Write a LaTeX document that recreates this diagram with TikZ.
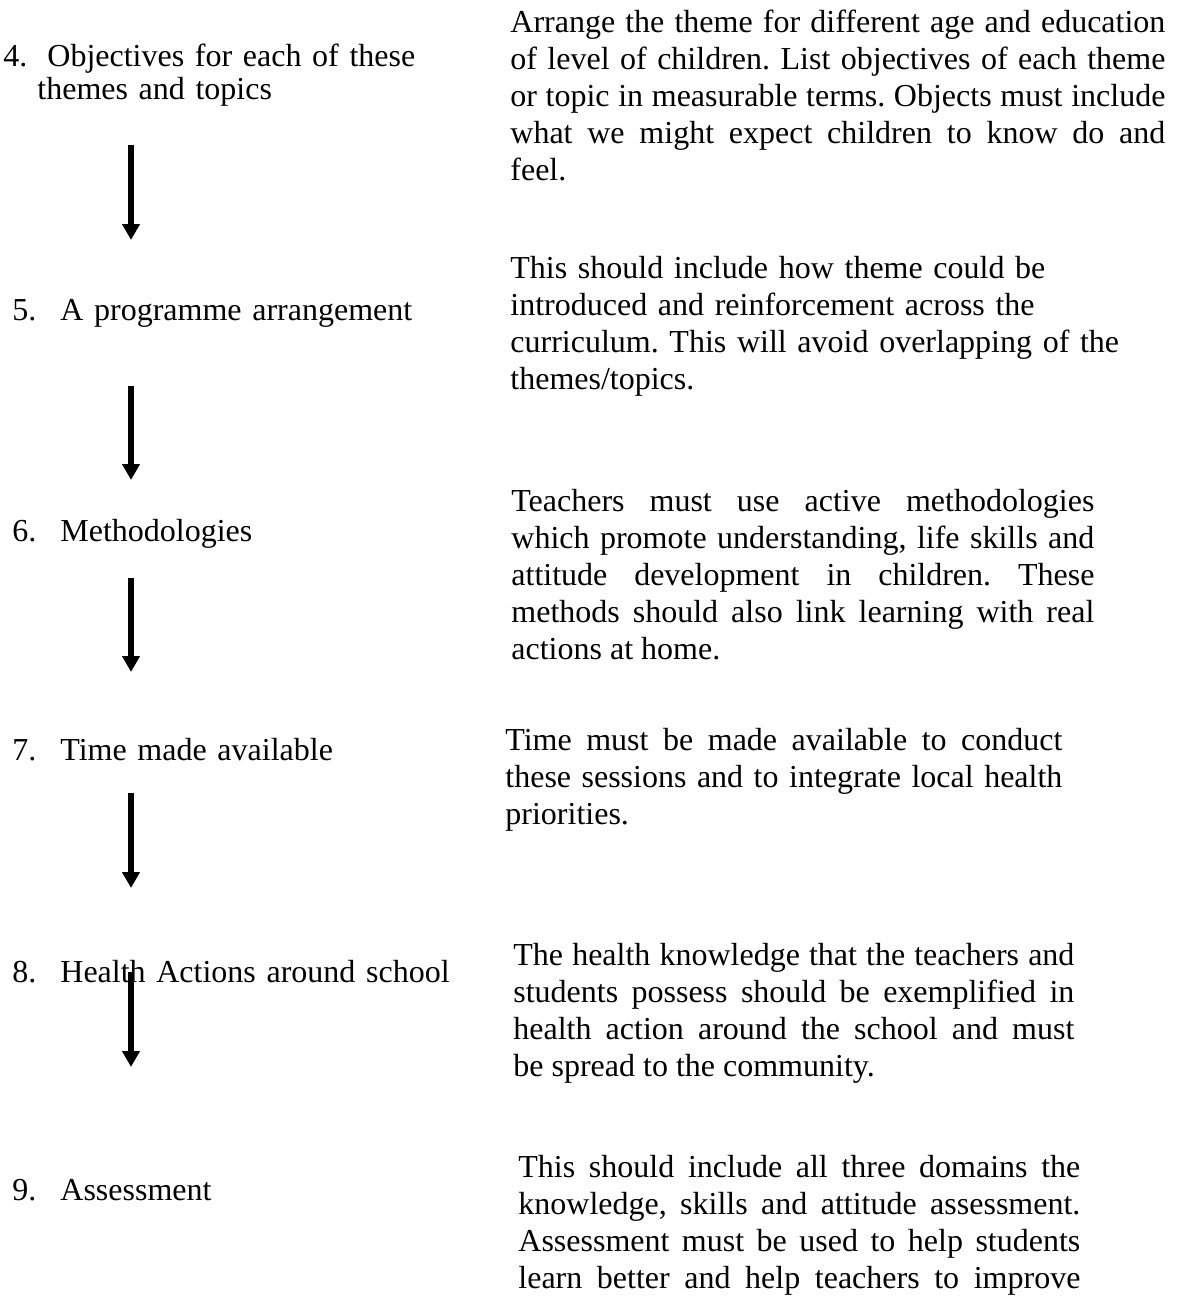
\documentclass[tikz,border=0pt]{standalone}
\usepackage{fontspec}
\setmainfont{Liberation Serif}
\usetikzlibrary{arrows.meta}
\frenchspacing
\tikzset{
  step label/.style={anchor=base west,inner sep=0pt,text width=240pt,align=left,
    font=\fontsize{16pt}{16.5pt}\selectfont},
  note text/.style={anchor=base west,inner sep=0pt,align=justify,
    font=\fontsize{16pt}{18.5pt}\selectfont,
    execute at begin node={\tolerance=10000\hbadness=10000\frenchspacing}},
  flow arrow/.style={line width=2.6pt,-{Triangle[width=8.5pt,length=8pt]}}
}
\newcommand{\StepNum}[1]{\makebox[24pt][l]{#1}}

\begin{document}
\begin{tikzpicture}[x=0.5pt,y=-0.5pt]
  \useasboundingbox[fill=white] (0,0) rectangle (1178,1302);

  % steps
  \node[step label] (s4) at (3,66)
    {\makebox[22pt][l]{4.}Objectives for each of these\\\hspace*{17pt}themes and topics};
  \node[step label] (s5) at (12,320)  {\StepNum{5.}A programme arrangement};
  \node[step label] (s6) at (12,541)  {\StepNum{6.}Methodologies};
  \node[step label] (s7) at (12,760)  {\StepNum{7.}Time made available};
  \node[step label] (s8) at (12,982)  {\StepNum{8.}Health Actions around school};
  \node[step label] (s9) at (12,1200) {\StepNum{9.}Assessment};

  % notes
  \node[note text,text width=327.5pt] (n4) at (510,32)
    {Arrange the theme for different age and education\linebreak
     of level of children. List objectives of each theme\linebreak
     or topic in measurable terms. Objects must include\linebreak
     what we might expect children to know do and\linebreak
     feel.};
  \node[note text,text width=320pt,align=left] (n5) at (510,278)
    {This should include how theme could be\\
     introduced and reinforcement across the\\
     curriculum. This will avoid overlapping of the\\
     themes/topics.};
  \node[note text,text width=291.5pt] (n6) at (511,511)
    {Teachers must use active methodologies\linebreak
     which promote understanding, life skills and\linebreak
     attitude development in children. These\linebreak
     methods should also link learning with real\linebreak
     actions at home.};
  \node[note text,text width=278.5pt] (n7) at (505,750)
    {Time must be made available to conduct\linebreak
     these sessions and to integrate local health\linebreak
     priorities.};
  \node[note text,text width=280.5pt] (n8) at (513,965)
    {The health knowledge that the teachers and\linebreak
     students possess should be exemplified in\linebreak
     health action around the school and must\linebreak
     be spread to the community.};
  \node[note text,text width=281pt] (n9) at (518,1177)
    {This should include all three domains the\linebreak
     knowledge, skills and attitude assessment.\linebreak
     Assessment must be used to help students\linebreak
     learn better and help teachers to improve\parfillskip=0pt\par};

  % arrows between the steps
  \coordinate (a4) at (131,145);  \coordinate (b4) at (131,240);
  \coordinate (a5) at (131,386);  \coordinate (b5) at (131,480);
  \coordinate (a6) at (131,578);  \coordinate (b6) at (131,672);
  \coordinate (a7) at (131,793);  \coordinate (b7) at (131,888);
  \coordinate (a8) at (131,972);  \coordinate (b8) at (131,1067);
  \foreach \i in {4,...,8} {\draw[flow arrow] (a\i) -- (b\i);}
\end{tikzpicture}
\end{document}
